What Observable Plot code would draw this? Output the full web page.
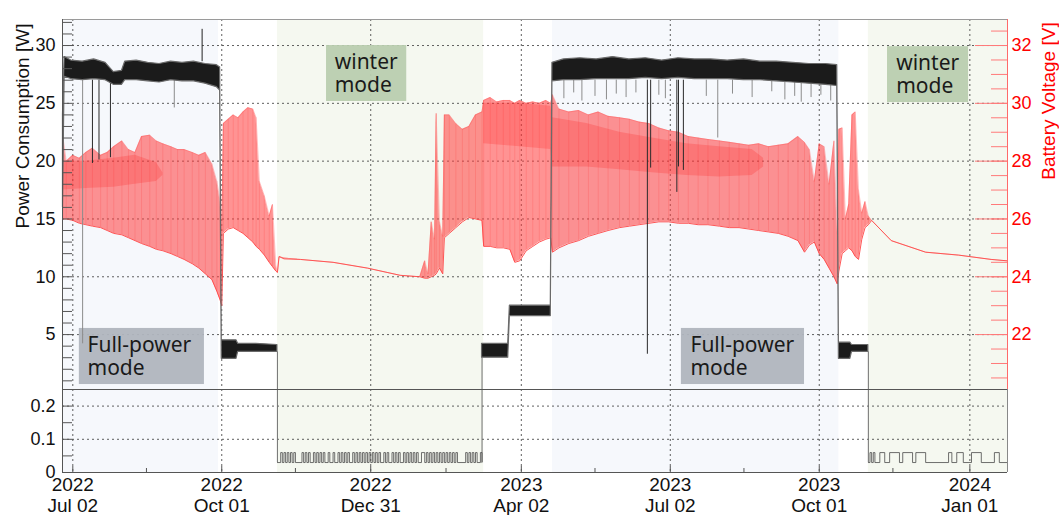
<!DOCTYPE html>
<html>
<head>
<meta charset="utf-8">
<script src="https://cdn.jsdelivr.net/npm/d3@7"></script>
<script src="https://cdn.jsdelivr.net/npm/@observablehq/plot@0.6"></script>
<style>
  html, body { margin: 0; padding: 0; background: #fff; }
  #chart { position: relative; width: 1059px; height: 515px; overflow: hidden; }
  .ytitle { position: absolute; white-space: nowrap; font-family: 'Liberation Sans', Arial, sans-serif;
            font-size: 19px; line-height: 1; transform: translate(-50%, -50%) rotate(-90deg); }
</style>
</head>
<body>
<div id="chart">
  <div class="ytitle" style="left:22px; top:126px; color:#111;">Power Consumption [W]</div>
  <div class="ytitle" style="left:1048px; top:101px; color:#ff0000;">Battery Voltage [V]</div>
</div>
<script>
// ---------------- DATA ----------------
const xDomain = ["2022-06-25T17:00Z", "2024-01-24T00:00Z"];
const xTicks = ["2022-07-02", "2022-10-01", "2022-12-31", "2023-04-02", "2023-07-02", "2023-10-01", "2024-01-01"];
const xMinorTicks = ["2022-08-16", "2022-11-15", "2023-02-15", "2023-05-17", "2023-08-16", "2023-11-15"];
const powerTicks = [0, 0.1, 0.2, 5, 10, 15, 20, 25, 30];
const voltTicks = [22, 24, 26, 28, 30, 32];

// shaded operating-mode regions
const regionStart = ["2022-06-25T17:00Z", "2022-11-04", "2023-04-21", "2023-10-31"];
const regionEnd   = ["2022-09-29", "2023-03-10", "2023-10-13", "2024-01-24"];
const regionKind  = ["full", "winter", "full", "winter"];

// annotation boxes
const boxText  = ["Full-power\nmode", "winter\nmode", "Full-power\nmode", "winter\nmode"];
const boxKind  = ["full", "winter", "full", "winter"];
const boxX1    = ["2022-07-06", "2022-12-04", "2023-07-08T19:00Z", "2023-11-11T17:00Z"];
const boxX2    = ["2022-09-20T10:00Z", "2023-01-22", "2023-09-22", "2023-12-31T05:00Z"];
const boxY1    = [0.68, 25.16, 0.68, 25.07];
const boxY2    = [5.53, 30.0, 5.53, 29.9];
const boxTextX = ["2022-07-11", "2022-12-09", "2023-07-14T08:00Z", "2023-11-17"];
const boxTextY = [4.91, 29.39, 4.91, 29.3];

// power consumption band (W): low / high envelope of the noisy trace
const powerT = ["2022-06-26","2022-06-27","2022-07-01","2022-07-08","2022-07-15","2022-07-22","2022-07-27","2022-08-01","2022-08-03",
  "2022-08-10","2022-08-17","2022-08-24","2022-08-31","2022-09-07","2022-09-14","2022-09-21","2022-09-28","2022-09-30",
  "2022-10-01","2022-10-10","2022-10-11","2022-10-22","2022-11-04",
  "2023-01-01",
  "2023-03-09","2023-03-25","2023-03-26","2023-04-20",
  "2023-04-21","2023-04-28","2023-05-08","2023-05-18","2023-05-28","2023-06-07","2023-06-17","2023-06-27","2023-07-07",
  "2023-07-17","2023-07-27","2023-08-06","2023-08-16","2023-08-26","2023-09-05","2023-09-15","2023-09-25","2023-10-05","2023-10-12",
  "2023-10-13","2023-10-20","2023-10-21","2023-10-31"];
const powerLo = [16.0,27.3,27.1,27.0,27.1,27.0,26.6,26.6,27.0,
  27.0,26.9,26.8,27.0,26.9,26.9,26.7,26.4,26.1,
  2.9,2.9,3.5,3.5,3.5,
  null,
  3.0,3.0,6.6,6.6,
  26.9,27.0,27.0,27.1,27.1,27.1,27.2,27.1,27.2,
  27.1,27.1,27.1,27.0,27.0,26.9,26.8,26.7,26.6,26.5,
  2.9,2.9,3.5,3.5];
const powerHi = [24.0,29.0,28.7,28.6,28.8,28.5,27.7,27.8,28.6,
  28.7,28.5,28.4,28.6,28.5,28.6,28.4,28.3,28.1,
  4.5,4.5,4.2,4.2,4.1,
  null,
  4.2,4.2,7.5,7.5,
  28.5,28.8,28.9,28.8,29.0,28.8,28.9,28.7,28.9,
  28.8,28.8,28.7,28.8,28.6,28.6,28.5,28.4,28.4,28.3,
  4.3,4.3,4.1,4.1];

// single dark drop-outs of the power trace
const dropT   = ["2022-07-14","2022-07-18","2022-07-25","2023-06-18","2023-06-20","2023-07-06","2023-07-07","2023-07-10"];
const dropMin = [19.8, 20.1, 20.3, 3.3, 19.4, 17.3, 19.5, 19.2];
// lighter (grey) dips
const dipT = ["2022-07-08","2022-09-02","2023-04-28","2023-05-04","2023-05-09","2023-05-17","2023-05-24","2023-05-30","2023-06-05",
  "2023-06-11","2023-06-25","2023-06-29","2023-07-24","2023-07-31","2023-08-09","2023-08-21","2023-09-02","2023-09-10",
  "2023-09-16","2023-09-20","2023-09-26","2023-10-02","2023-10-08"];
const dipMin = [4.2,24.6,25.4,25.9,25.2,25.6,25.3,25.8,25.5,25.9,25.7,25.4,25.6,22.0,25.8,25.5,26.0,25.3,25.6,25.1,25.5,25.7,25.2];
const bandFloor = 27.0;
const bandCeil = 28.6;
const spikeT = ["2022-09-19"];
const spikeMax = [31.4];

// switch-over lines between standby and low-power levels
const transT  = ["2022-11-04", "2023-03-09", "2023-10-31"];
const transHi = [3.5, 3.0, 3.5];

// standby (winter mode) level with periodic wake-up pulses
const standbyBase = 0.03;
const standbyPulse = 0.06;
const winter1Start = "2022-11-04", winter1End = "2023-03-09";
const winter1On  = ["2022-11-06","2022-11-08","2022-11-10","2022-11-12","2022-11-14","2022-11-19","2022-11-21","2022-11-23","2022-11-26",
  "2022-11-28","2022-11-30","2022-12-02","2022-12-05","2022-12-08","2022-12-11","2022-12-13","2022-12-15","2022-12-17","2022-12-20",
  "2022-12-22","2022-12-24","2022-12-26","2022-12-28","2022-12-30","2023-01-01","2023-01-03","2023-01-05","2023-01-08","2023-01-10",
  "2023-01-13","2023-01-15","2023-01-17","2023-01-20","2023-01-22","2023-01-24","2023-01-26","2023-01-28","2023-01-31","2023-02-03",
  "2023-02-05","2023-02-07","2023-02-09","2023-02-11","2023-02-13","2023-02-15","2023-02-17","2023-02-19","2023-02-21","2023-02-27",
  "2023-03-01","2023-03-03","2023-03-05","2023-03-08"];
const winter1Off = ["2022-11-07","2022-11-09","2022-11-11","2022-11-13","2022-11-15","2022-11-20","2022-11-22","2022-11-24","2022-11-27",
  "2022-11-29","2022-12-01","2022-12-03","2022-12-06","2022-12-09","2022-12-12","2022-12-14","2022-12-16","2022-12-18","2022-12-21",
  "2022-12-23","2022-12-25","2022-12-27","2022-12-29","2022-12-31","2023-01-02","2023-01-04","2023-01-06","2023-01-09","2023-01-11",
  "2023-01-14","2023-01-16","2023-01-18","2023-01-21","2023-01-23","2023-01-25","2023-01-27","2023-01-29","2023-02-02","2023-02-04",
  "2023-02-06","2023-02-08","2023-02-10","2023-02-12","2023-02-14","2023-02-16","2023-02-18","2023-02-20","2023-02-22","2023-02-28",
  "2023-03-02","2023-03-04","2023-03-06","2023-03-09"];
const winter2Start = "2023-10-31", winter2End = "2024-01-24";
const winter2On  = ["2023-11-01","2023-11-03","2023-11-07","2023-11-13","2023-11-21","2023-11-29","2023-12-19","2023-12-24","2024-01-02","2024-01-16"];
const winter2Off = ["2023-11-02","2023-11-04","2023-11-10","2023-11-19","2023-11-27","2023-12-05","2023-12-21","2023-12-28","2024-01-08","2024-01-19"];

// battery voltage (V): trough / peak envelope of daily charge cycles
const voltT = ["2022-06-26","2022-06-28","2022-07-02","2022-07-06","2022-07-10","2022-07-14","2022-07-19","2022-07-23","2022-07-27",
  "2022-08-01","2022-08-05","2022-08-09","2022-08-13","2022-08-18","2022-08-22","2022-08-26","2022-08-31","2022-09-04","2022-09-08",
  "2022-09-13","2022-09-17","2022-09-21","2022-09-25","2022-09-28","2022-09-30","2022-10-01","2022-10-02","2022-10-05","2022-10-08",
  "2022-10-11","2022-10-14","2022-10-17","2022-10-20","2022-10-22","2022-10-24","2022-10-27","2022-10-30","2022-11-01","2022-11-03",
  "2022-11-04","2022-11-05","2022-11-08","2022-11-18","2022-12-08","2022-12-29","2023-01-10","2023-01-18","2023-01-30","2023-02-02",
  "2023-02-04","2023-02-06","2023-02-08","2023-02-09","2023-02-11","2023-02-13","2023-02-14","2023-02-17","2023-02-21","2023-02-25",
  "2023-03-01","2023-03-05","2023-03-09","2023-03-10","2023-03-14","2023-03-18","2023-03-22","2023-03-26","2023-03-29","2023-04-01",
  "2023-04-05","2023-04-09","2023-04-13","2023-04-17","2023-04-20","2023-04-21","2023-04-25","2023-05-01","2023-05-07","2023-05-13",
  "2023-05-19","2023-05-25","2023-06-01","2023-06-07","2023-06-13","2023-06-19","2023-06-25","2023-07-01","2023-07-07","2023-07-13",
  "2023-07-19","2023-07-25","2023-08-01","2023-08-07","2023-08-13","2023-08-19","2023-08-25","2023-08-31","2023-09-06","2023-09-12",
  "2023-09-18","2023-09-22","2023-09-25","2023-09-28","2023-10-01","2023-10-04","2023-10-07","2023-10-10","2023-10-12","2023-10-13",
  "2023-10-15","2023-10-17","2023-10-19","2023-10-21","2023-10-23","2023-10-25","2023-10-27","2023-10-29","2023-10-31","2023-11-02",
  "2023-11-14","2023-12-05","2023-12-25","2024-01-14","2024-01-24"];
const voltHi = [28.8,28.0,28.2,28.1,28.3,28.45,28.2,28.3,28.5,
  28.7,28.4,28.3,28.85,28.9,28.7,28.6,28.5,28.4,28.4,
  28.3,28.2,28.3,27.9,27.3,26.6,25.6,29.3,29.45,29.6,
  29.5,29.7,29.85,29.8,29.5,27.3,26.8,26.1,26.5,24.4,
  24.15,24.7,24.65,24.6,24.5,24.3,24.15,24.05,24.0,24.55,
  24.1,25.9,25.3,29.65,25.9,25.4,29.6,29.6,29.3,29.1,
  29.2,29.6,29.7,30.1,30.2,30.05,30.1,30.1,30.0,30.1,
  30.0,30.05,30.0,30.1,30.0,30.3,29.8,29.7,29.75,29.6,
  29.7,29.55,29.5,29.45,29.35,29.3,29.15,29.05,29.0,28.85,
  28.8,28.75,28.7,28.65,28.6,28.55,28.6,28.5,28.55,28.6,
  28.85,28.65,28.4,27.3,28.6,28.5,27.2,28.7,25.5,29.1,
  29.15,26.0,26.5,29.6,29.7,27.0,26.2,26.6,26.1,25.95,
  25.25,24.85,24.75,24.6,24.55];
const voltLo = [26.0,26.0,25.95,25.85,25.8,25.75,25.7,25.6,25.5,
  25.45,25.35,25.25,25.15,25.05,24.95,24.9,24.8,24.7,24.6,
  24.45,24.3,24.1,23.9,23.5,23.2,23.0,25.5,25.65,25.7,
  25.6,25.5,25.35,25.2,25.05,24.95,24.75,24.5,24.35,24.2,
  24.15,24.7,24.62,24.6,24.5,24.3,24.15,24.05,24.0,23.95,
  23.95,24.0,24.05,24.1,24.3,24.1,25.35,25.5,25.7,25.9,
  26.05,26.0,25.95,25.05,25.05,25.0,25.0,24.95,24.5,24.55,
  24.9,25.05,25.2,25.3,25.35,24.85,25.0,25.15,25.25,25.4,
  25.5,25.6,25.7,25.75,25.8,25.85,25.9,25.9,25.85,25.85,
  25.8,25.8,25.75,25.7,25.7,25.65,25.6,25.55,25.5,25.4,
  25.25,24.85,25.1,25.2,24.8,24.6,24.3,24.0,23.75,24.2,
  24.8,24.9,25.0,24.9,24.7,24.6,25.3,25.7,25.8,25.95,
  25.25,24.85,24.75,24.6,24.55];

// denser (darker) part of the daily voltage cycles
const bandT  = ["2022-06-26","2022-07-10","2022-07-27","2022-08-09","2022-08-22","2022-08-26","2022-12-01",
  "2023-03-10","2023-04-01","2023-04-20","2023-04-21","2023-05-12","2023-06-01","2023-06-21","2023-07-12","2023-08-01","2023-08-21","2023-08-28"];
const bandHi = [28.0,28.0,28.1,28.2,27.95,27.6,null,30.0,30.0,29.9,29.5,29.3,29.0,28.8,28.6,28.5,28.4,28.1];
const bandLo = [27.0,27.05,27.1,27.2,27.3,27.5,null,28.6,28.5,28.4,27.8,27.8,27.7,27.6,27.5,27.45,27.5,27.8];

// ---------------- BUILD ----------------
const D = s => new Date(s);
const vy = v => (v == null ? NaN : (v - 20) * 2.5);   // voltage -> position on the power axis
const num = v => (v == null ? NaN : v);
const yTop = 32.25, yBreak = 0.25;

const regions = regionStart.map((s, i) => ({a: D(s), b: D(regionEnd[i]), kind: regionKind[i]}));
const boxes = boxText.map((t, i) => ({text: t, kind: boxKind[i], x1: D(boxX1[i]), x2: D(boxX2[i]),
  y1: boxY1[i], y2: boxY2[i], tx: D(boxTextX[i]), ty: boxTextY[i]}));
const power = powerT.map((t, i) => ({t: D(t), lo: num(powerLo[i]), hi: num(powerHi[i])}));
const drops = dropT.map((t, i) => ({t: D(t), min: dropMin[i]}));
const dips = dipT.map((t, i) => ({t: D(t), min: dipMin[i]}));
const spikes = spikeT.map((t, i) => ({t: D(t), max: spikeMax[i]}));
const trans = transT.map((t, i) => ({t: D(t), hi: transHi[i]}));
function standby(s, start, end, on, off) {
  const pts = [{s, t: D(start), w: standbyBase}];
  on.forEach((d, i) => { pts.push({s, t: D(d), w: standbyPulse}); pts.push({s, t: D(off[i]), w: standbyBase}); });
  pts.push({s, t: D(end), w: standbyBase});
  return pts;
}
const standbyPts = standby("w1", winter1Start, winter1End, winter1On, winter1Off)
  .concat(standby("w2", winter2Start, winter2End, winter2On, winter2Off));
const volt = voltT.map((t, i) => ({t: D(t), lo: vy(voltLo[i]), hi: vy(voltHi[i])}));
const vband = bandT.map((t, i) => ({t: D(t), lo: vy(bandLo[i]), hi: vy(bandHi[i])}));

const leftMinor = d3.range(1, 33).concat([0.05, 0.1, 0.15, 0.2]);
const rightMinor = d3.range(20.5, 32.6, 0.5).map(vy);
const gridY = powerTicks.filter(d => d > 0);
const fmtDate = d3.utcFormat("%Y\n%b %d");

const fullFill = "#f6f8fc", winterFill = "#f5f8f0";
const red = "#ff1a1a";

const chart = Plot.plot({
  width: 1059,
  height: 515,
  marginLeft: 62,
  marginRight: 52,
  marginTop: 19,
  marginBottom: 43,
  style: {fontFamily: "'Liberation Sans', Arial, sans-serif", background: "transparent", overflow: "visible"},
  x: {type: "utc", domain: xDomain.map(D), axis: null},
  y: {type: "linear", domain: [0, yBreak, yTop], range: [472, 389, 19], axis: null},
  marks: [
    // mode regions
    Plot.rect(regions, {x1: "a", x2: "b", y1: 0, y2: yTop, fill: d => d.kind === "full" ? fullFill : winterFill}),
    // grid
    Plot.ruleY(gridY, {stroke: "#444", strokeDasharray: "2,3", strokeWidth: 1, strokeOpacity: 0.85}),
    Plot.ruleX(xTicks.map(D), {stroke: "#444", strokeDasharray: "2,3", strokeWidth: 1, strokeOpacity: 0.85}),
    // annotation boxes
    Plot.rect(boxes, {x1: "x1", x2: "x2", y1: "y1", y2: "y2", fill: d => d.kind === "full" ? "#b0b5be" : "#b9cdaf", fillOpacity: 0.95}),
    // battery voltage
    Plot.areaY(volt, {x: "t", y1: "lo", y2: "hi", fill: "#ff3a3a", fillOpacity: 0.55}),
    Plot.ruleX(volt.filter(d => d.hi - d.lo > 0.5), {x: "t", y1: "lo", y2: "hi", stroke: red, strokeOpacity: 0.15, strokeWidth: 1}),
    Plot.areaY(vband, {x: "t", y1: "lo", y2: "hi", fill: "#ff1010", fillOpacity: 0.2}),
    Plot.line(volt, {x: "t", y: "lo", stroke: "#ff4545", strokeWidth: 1, strokeOpacity: 0.9}),
    Plot.line(volt, {x: "t", y: "hi", stroke: "#ff5050", strokeWidth: 0.8, strokeOpacity: 0.45}),
    // power consumption
    Plot.ruleX(dips, {x: "t", y1: "min", y2: bandFloor, stroke: "#8c8c8c", strokeWidth: 1}),
    Plot.ruleX(drops, {x: "t", y1: "min", y2: bandFloor, stroke: "#2a2a2a", strokeWidth: 1}),
    Plot.ruleX(spikes, {x: "t", y1: bandCeil, y2: "max", stroke: "#222", strokeWidth: 1}),
    Plot.areaY(power, {x: "t", y1: "lo", y2: "hi", fill: "#1b1b1b", stroke: "#6a6a6a", strokeWidth: 1.2}),
    Plot.ruleX(trans, {x: "t", y1: standbyBase, y2: "hi", stroke: "#707070", strokeWidth: 1}),
    Plot.line(standbyPts, {x: "t", y: "w", z: "s", curve: "step-after", stroke: "#4a4a4a", strokeWidth: 0.8}),
    // box texts
    Plot.text(boxes, {x: "tx", y: "ty", text: "text", textAnchor: "start", lineAnchor: "top", fontSize: 21,
      lineHeight: 1.1, fill: "#1a1a1a", fontFamily: "'Noto Sans', 'Open Sans', sans-serif"}),
    // frame & break
    Plot.ruleY([yTop], {stroke: "#9a9a9a"}),
    Plot.ruleY([yBreak], {stroke: "#555"}),
    Plot.ruleY([0], {stroke: "#555"}),
    Plot.ruleX([D(xDomain[0])], {stroke: "#555"}),
    Plot.ruleX([D(xDomain[1])], {y1: 0, y2: yBreak, stroke: "#888"}),
    Plot.ruleX([D(xDomain[1])], {y1: yBreak, y2: yTop, stroke: "#ff6a6a"}),
    // ticks
    Plot.tickY(leftMinor, {y: d => d, insetRight: 935, stroke: "#555"}),
    Plot.tickY(rightMinor, {y: d => d, insetLeft: 929, stroke: "#ff7a7a"}),
    Plot.tickY(voltTicks.map(vy), {y: d => d, insetLeft: 913, stroke: "#ff7a7a"}),
    Plot.tickX(xMinorTicks.map(D), {x: d => d, insetTop: 449, stroke: "#555"}),
    Plot.tickX(xTicks.map(D), {x: d => d, insetTop: 447, stroke: "#555"}),
    // tick labels
    Plot.text(xTicks.map(D), {x: d => d, frameAnchor: "bottom", dy: 4, lineAnchor: "top", text: d => fmtDate(d),
      fontSize: 19, lineHeight: 1.1, fill: "#111"}),
    Plot.text(powerTicks, {y: d => d, frameAnchor: "left", dx: -7, textAnchor: "end", text: d => String(d),
      fontSize: 18, fill: "#111"}),
    Plot.text(voltTicks, {y: vy, frameAnchor: "right", dx: 4, textAnchor: "start", text: d => String(d),
      fontSize: 18, fill: "#ff0000"})
  ]
});
document.getElementById("chart").prepend(chart);
</script>
</body>
</html>
